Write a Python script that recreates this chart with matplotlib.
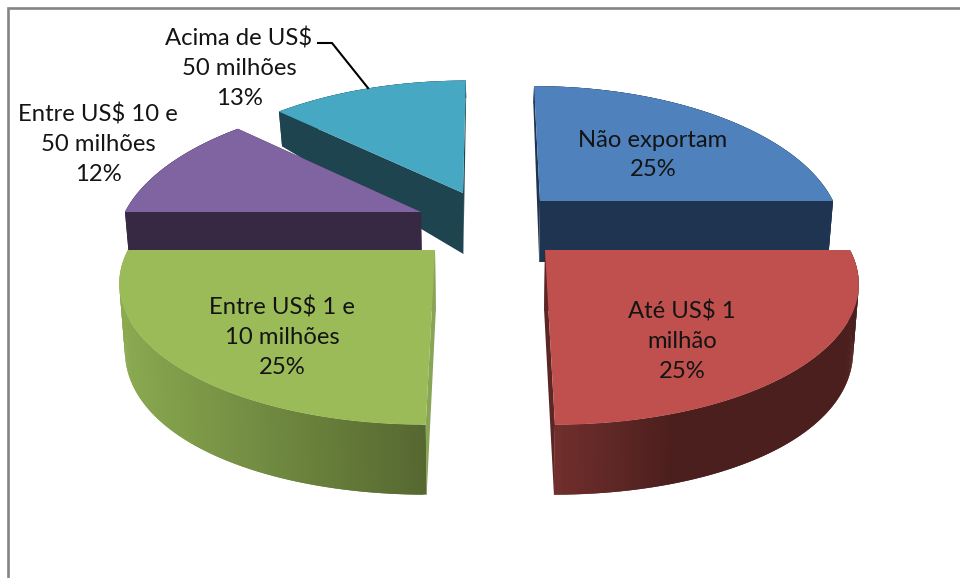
import numpy as np
import matplotlib
matplotlib.use('Agg')
import matplotlib.pyplot as plt
from matplotlib.collections import PolyCollection
from matplotlib.colors import to_rgb

# Chart data
categories = ['Não exportam', 'Até US$ 1\nmilhão', 'Entre US$ 1 e\n10 milhões',
              'Entre US$ 10 e\n50 milhões', 'Acima de US$\n50 milhões']
shares = [25, 25, 25, 12, 13]

# Layout of each exploded slice, in figure pixels
centers_x = [540, 545, 435, 421, 463]
centers_y = [201, 250, 250, 212, 193]
radii_x = [293, 305, 307, 296, 292]
radii_y = [139, 138, 138, 139, 136]
label_x = [653, 682, 282, 98, 239]
label_y = [155, 341, 337, 144, 68]

top_colors = ['#4f81bd', '#c0504d', '#9bbb59', '#8064a2', '#47a8c4']
side_colors = ['#1f3450', '#5c2624', '#88a556', '#372844', '#1e4450']
# wall shade at the left end and right end of each slice
wall_left = ['#1f3450', '#722f2d', '#8aaa50', '#372844', '#1e4450']
wall_right = ['#1f3450', '#4b1f1d', '#566830', '#372844', '#1e4450']
wall_reach = [1.0, 0.4, 1.0, 1.0, 1.0]

KX = 0.21
VANISH_X = 488


def project(theta, cx, cy, rx, ry):
    # theta runs clockwise from the top of the pie, slight perspective on the disc
    sx, sy = np.sin(theta), np.cos(theta)
    s = 1 / (1 + KX * sy)
    y = -ry * sy * s
    x = rx * sx * s + (cx - VANISH_X) * 0.001 * y
    return cx + x, cy + y, sy


def drop(x, y, sy):
    # point on the bottom face under a point of the top face
    depth = 61 - 26.4 * sy - 17.4 * sy ** 2
    return x + (VANISH_X - x) * 0.015, y + depth


fig = plt.figure(figsize=(9.6, 5.78), dpi=100)
ax = fig.add_axes([0, 0, 1, 1])
ax.set_xlim(0, 960)
ax.set_ylim(578, 0)
ax.axis('off')

# Chart frame
ax.plot([8, 8, 960], [578, 7.5, 7.5], color='#858585', lw=1.9, solid_joinstyle='miter', zorder=1)

fracs = np.cumsum([0] + shares) / sum(shares)
z = 2
for i in [0, 4, 3, 2, 1]:
    start, end = fracs[i] * 2 * np.pi, fracs[i + 1] * 2 * np.pi
    theta = np.linspace(start, end, 160)
    x, y, sy = project(theta, centers_x[i], centers_y[i], radii_x[i], radii_y[i])
    xb, yb = drop(x, y, sy)
    ax_x, ax_y = float(centers_x[i]), float(centers_y[i])
    apex_bx, apex_by = drop(ax_x, ax_y, 0.0)

    # the two straight cut faces
    for j in [0, -1]:
        face = [(ax_x, ax_y), (x[j], y[j]), (xb[j], yb[j]), (apex_bx, apex_by)]
        ax.fill(*zip(*face), color=side_colors[i], lw=0, zorder=z)

    # curved outer wall, shaded along x; strips overlap so no seams show
    quads = []
    colors = []
    c0, c1 = np.array(to_rgb(wall_left[i])), np.array(to_rgb(wall_right[i]))
    for k in range(len(theta) - 1):
        k2 = min(k + 2, len(theta) - 1)
        quads.append([(x[k], y[k]), (x[k2], y[k2]), (xb[k2], yb[k2]), (xb[k], yb[k])])
        t = (xb[k] - xb.min()) / (xb.max() - xb.min())
        colors.append(c0 + (c1 - c0) * min(1.0, t / wall_reach[i]))
    ax.add_collection(PolyCollection(quads, facecolors=colors, edgecolors='none',
                                     linewidths=0, zorder=z + 0.1))

    # top face
    ax.fill(np.r_[ax_x, x], np.r_[ax_y, y], color=top_colors[i], lw=0, zorder=z + 0.2)
    z += 1

# Leader line of the last label
ax.plot([318, 332, 368], [43, 43, 88], color='black', lw=1.5, zorder=z)

for i in range(len(categories)):
    ax.text(label_x[i], label_y[i], '%s\n%d%%' % (categories[i], shares[i]),
            ha='center', va='center', family='Lato', fontsize=17.2,
            linespacing=1.52, color='#141414', zorder=z + 1)

plt.savefig('out.png', dpi=100)
